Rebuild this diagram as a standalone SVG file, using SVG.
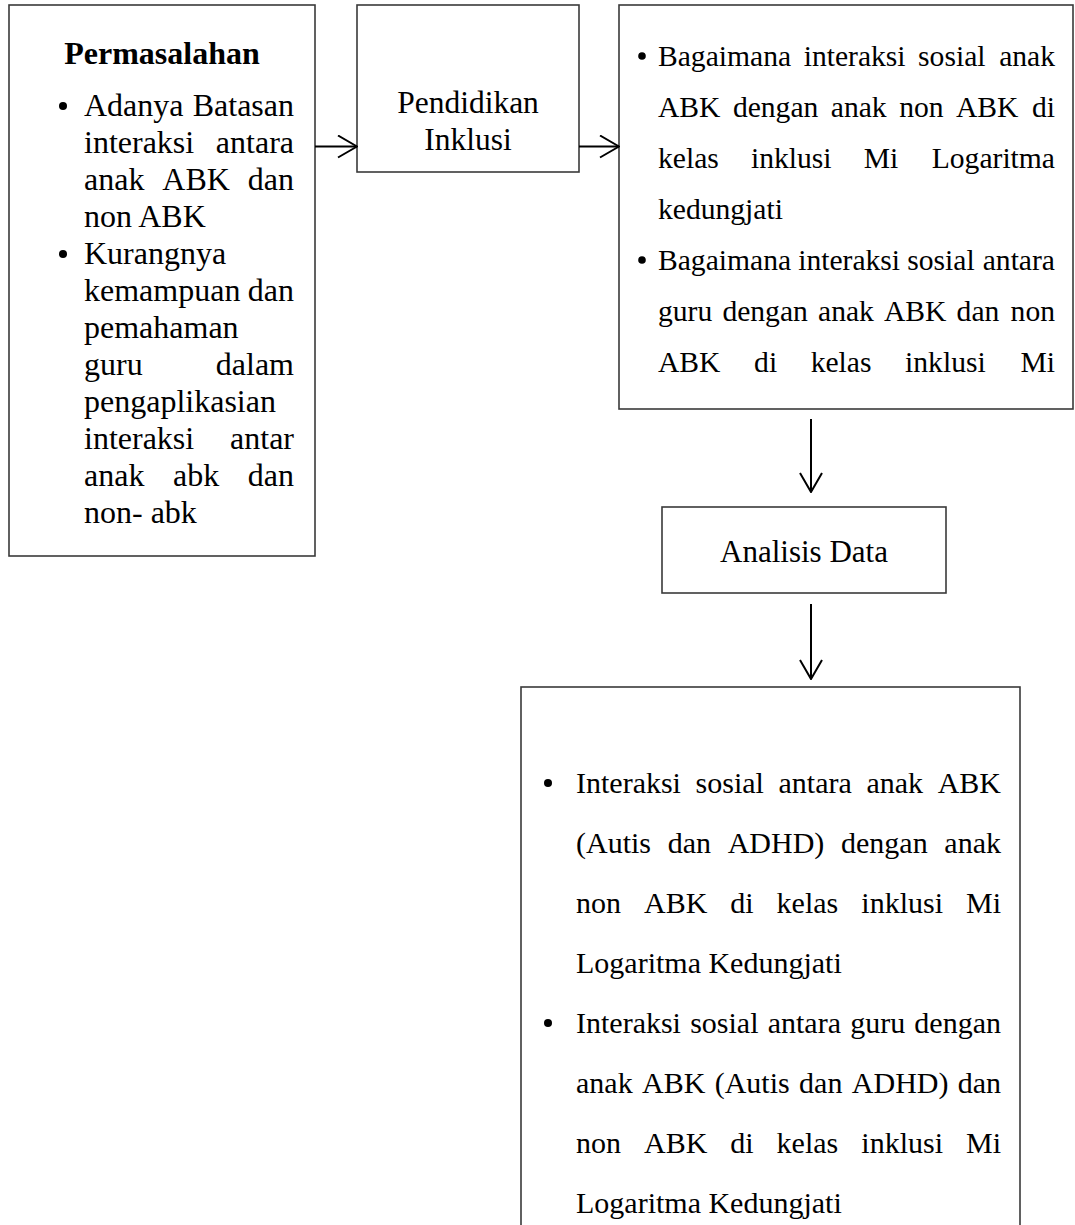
<svg xmlns="http://www.w3.org/2000/svg" width="1075" height="1225" viewBox="0 0 1075 1225">
<style>
.box{fill:#fff;stroke:#3a3a3a;stroke-width:1.6}
.t{font-family:"Liberation Serif","Times New Roman",serif;fill:#000}
.f32{font-size:32px}
.f30{font-size:30px}
.f296{font-size:29.6px}
.b{font-weight:bold}
.e{text-anchor:end}
.m{text-anchor:middle}
.con{stroke:#000;stroke-width:2;fill:none}
</style>
<defs>
<marker id="ah" markerUnits="userSpaceOnUse" viewBox="0 0 22 24" refX="21" refY="12" markerWidth="22" markerHeight="24" orient="auto">
<path d="M2,1 L21,12 L2,23" fill="none" stroke="#000" stroke-width="2"/>
</marker>
</defs>
<rect width="1075" height="1225" fill="#fff"/>

<g id="permasalahan">
<rect class="box" x="9" y="5" width="306" height="551"/>
<text class="t f32 b m" x="162" y="64">Permasalahan</text>
<g class="t f32">
<circle cx="63" cy="106" r="4"/>
<text x="84" y="116">Adanya</text><text class="e" x="294" y="116">Batasan</text>
<text x="84" y="153">interaksi</text><text class="e" x="294" y="153">antara</text>
<text x="84" y="190">anak</text><text x="162.3" y="190">ABK</text><text class="e" x="294" y="190">dan</text>
<text x="84" y="227">non ABK</text>
<circle cx="63" cy="254" r="4"/>
<text x="84" y="264">Kurangnya</text>
<text x="84" y="301">kemampuan</text><text class="e" x="294" y="301">dan</text>
<text x="84" y="338">pemahaman</text>
<text x="84" y="375">guru</text><text class="e" x="294" y="375">dalam</text>
<text x="84" y="412">pengaplikasian</text>
<text x="84" y="449">interaksi</text><text class="e" x="294" y="449">antar</text>
<text x="84" y="486">anak</text><text x="173" y="486">abk</text><text class="e" x="294" y="486">dan</text>
<text x="84" y="523">non- abk</text>
</g>
</g>

<g id="pendidikan-inklusi">
<rect class="box" x="357" y="5" width="222" height="167"/>
<text class="t m" font-size="31.5" x="468" y="113">Pendidikan</text>
<text class="t m" font-size="31.5" x="468" y="150">Inklusi</text>
</g>

<g id="rumusan-masalah">
<rect class="box" x="619" y="5" width="454" height="404"/>
<g class="t f296">
<circle cx="642" cy="56" r="3.8"/>
<text x="658" y="66">Bagaimana</text><text x="803.7" y="66">interaksi</text><text x="918.1" y="66">sosial</text><text class="e" x="1055" y="66">anak</text>
<text x="658" y="117">ABK</text><text x="732.9" y="117">dengan</text><text x="830.8" y="117">anak</text><text x="899.2" y="117">non</text><text x="956" y="117">ABK</text><text class="e" x="1055" y="117">di</text>
<text x="658" y="168">kelas</text><text x="751" y="168">inklusi</text><text x="863.8" y="168">Mi</text><text class="e" x="1055" y="168">Logaritma</text>
<text x="658" y="219">kedungjati</text>
<circle cx="642" cy="260" r="3.8"/>
<text x="658" y="270">Bagaimana</text><text x="798.2" y="270">interaksi</text><text x="907.2" y="270">sosial</text><text class="e" x="1055" y="270">antara</text>
<text x="658" y="321">guru</text><text x="722.4" y="321">dengan</text><text x="818" y="321">anak</text><text x="884" y="321">ABK</text><text x="956.6" y="321">dan</text><text class="e" x="1055" y="321">non</text>
<text x="658" y="372">ABK</text><text x="754.1" y="372">di</text><text x="810.7" y="372">kelas</text><text x="905.1" y="372">inklusi</text><text class="e" x="1055" y="372">Mi</text>
</g>
</g>

<g id="analisis-data">
<rect class="box" x="662" y="507" width="284" height="86"/>
<text class="t m" font-size="31" x="804" y="562">Analisis Data</text>
</g>

<g id="hasil">
<rect class="box" x="521" y="687" width="499" height="560"/>
<g class="t f30">
<circle cx="548" cy="783" r="4"/>
<text x="576" y="793">Interaksi</text><text x="695.6" y="793">sosial</text><text x="778.5" y="793">antara</text><text x="866.4" y="793">anak</text><text class="e" x="1001" y="793">ABK</text>
<text x="576" y="853">(Autis</text><text x="667.7" y="853">dan</text><text x="727.7" y="853">ADHD)</text><text x="841" y="853">dengan</text><text class="e" x="1001" y="853">anak</text>
<text x="576" y="913">non</text><text x="644" y="913">ABK</text><text x="730.3" y="913">di</text><text x="776.6" y="913">kelas</text><text x="861.3" y="913">inklusi</text><text class="e" x="1001" y="913">Mi</text>
<text x="576" y="973">Logaritma Kedungjati</text>
<circle cx="548" cy="1023" r="4"/>
<text x="576" y="1033">Interaksi</text><text x="690.2" y="1033">sosial</text><text x="767.7" y="1033">antara</text><text x="850.2" y="1033">guru</text><text class="e" x="1001" y="1033">dengan</text>
<text x="576" y="1093">anak</text><text x="642" y="1093">ABK</text><text x="714.7" y="1093">(Autis</text><text x="799.1" y="1093">dan</text><text x="851.8" y="1093">ADHD)</text><text class="e" x="1001" y="1093">dan</text>
<text x="576" y="1153">non</text><text x="644" y="1153">ABK</text><text x="730.3" y="1153">di</text><text x="776.6" y="1153">kelas</text><text x="861.3" y="1153">inklusi</text><text class="e" x="1001" y="1153">Mi</text>
<text x="576" y="1213">Logaritma Kedungjati</text>
</g>
</g>

<g id="connectors">
<line class="con" x1="315" y1="146.5" x2="357" y2="146.5" marker-end="url(#ah)"/>
<line class="con" x1="579" y1="146.5" x2="619" y2="146.5" marker-end="url(#ah)"/>
<line class="con" x1="811" y1="419" x2="811" y2="492" marker-end="url(#ah)"/>
<line class="con" x1="811" y1="604" x2="811" y2="679" marker-end="url(#ah)"/>
</g>
</svg>
